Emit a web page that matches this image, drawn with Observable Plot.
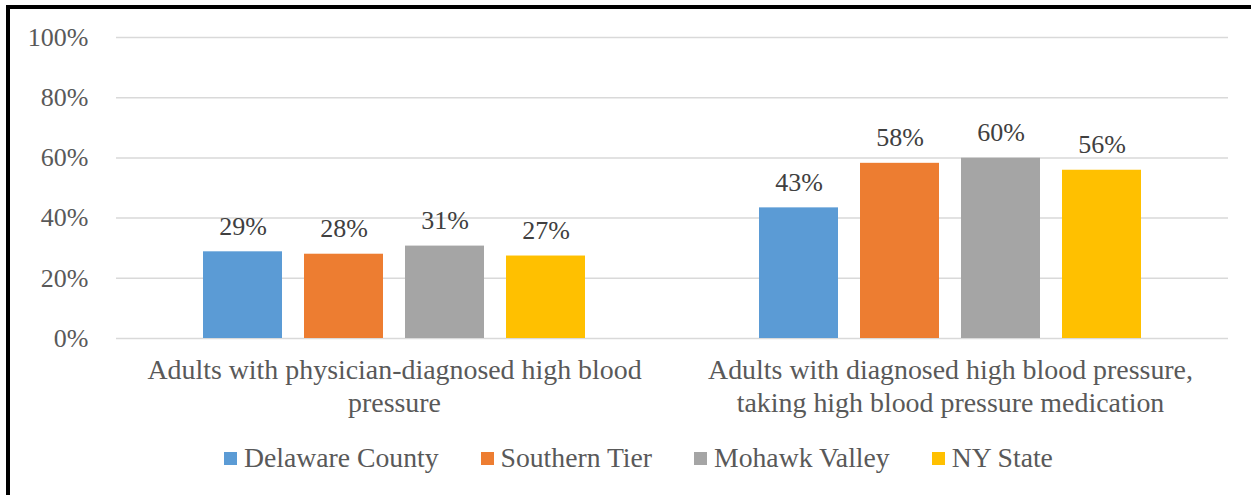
<!DOCTYPE html>
<html><head><meta charset="utf-8">
<script src="https://cdn.jsdelivr.net/npm/d3@7"></script>
<script src="https://cdn.jsdelivr.net/npm/@observablehq/plot@0.6"></script>
<style>
body{margin:0;background:#fff;font-family:"Liberation Serif","Times New Roman",serif;}
#wrap{position:relative;width:1251px;height:495px;overflow:hidden;background:#fff}
#frame{position:absolute;left:6px;top:5px;right:-10px;bottom:-10px;border-left:4px solid #000;border-top:4px solid #000;}
#chart{position:absolute;left:0;top:0}
#legend{position:absolute;top:440px;left:224px;display:flex;align-items:center;height:36px;font-size:27.7px;color:#595959;white-space:nowrap}
.item{display:flex;align-items:center;margin-right:42px}
.sw{width:13px;height:13px;margin-right:7px}
</style>
</head><body>
<div id="wrap"><div id="frame"></div><div id="chart"></div><div id="legend"></div></div>
<script>
const categories = ["Adults with physician-diagnosed high blood\npressure", "Adults with diagnosed high blood pressure,\ntaking high blood pressure medication"];
const seriesNames = ["Delaware County", "Southern Tier", "Mohawk Valley", "NY State"];
const colors = ["#5B9BD5", "#ED7D31", "#A5A5A5", "#FFC000"];
const physicianDiagnosed = [0.288, 0.280, 0.307, 0.274];
const takingMedication = [0.434, 0.582, 0.599, 0.559];
const yTicks = [0, 0.2, 0.4, 0.6, 0.8, 1];

const values = [physicianDiagnosed, takingMedication];
const data = [];
categories.forEach((c, i) => values[i].forEach((v, j) => data.push({category: c, series: seriesNames[j], value: v})));
const pct = d3.format(".0%");

const chart = Plot.plot({
  width: 1251, height: 420,
  marginLeft: 115, marginRight: 23, marginTop: 37, marginBottom: 82,
  style: {fontFamily: "Liberation Serif, Times New Roman, serif", fontSize: "26px", background: "transparent", overflow: "visible"},
  fx: {domain: categories, padding: 0, label: null},
  x: {domain: seriesNames, paddingInner: 0.218, paddingOuter: 0.85, axis: null},
  y: {domain: [0, 1], label: null},
  color: {domain: seriesNames, range: colors},
  marks: [
    Plot.gridY(yTicks, {stroke: "#d9d9d9", strokeOpacity: 1, strokeWidth: 1.5}),
    Plot.axisY(yTicks, {tickFormat: pct, tickSize: 0, tickPadding: 28, fill: "#595959", fontSize: 26, label: null}),
    Plot.axisFx({anchor: "bottom", tickSize: 0, tickPadding: 17, fill: "#595959", fontSize: 27.9, label: null, lineHeight: 1.18}),
    Plot.barY(data, {fx: "category", x: "series", y: "value", fill: "series"}),
    Plot.text(data, {fx: "category", x: "series", y: "value", text: d => pct(d.value), lineAnchor: "bottom", dy: -17, fill: "#404040", fontSize: 26})
  ]
});
document.getElementById("chart").appendChild(chart);

const legend = document.getElementById("legend");
seriesNames.forEach((s, i) => {
  const it = document.createElement("div"); it.className = "item";
  const sw = document.createElement("div"); sw.className = "sw"; sw.style.background = colors[i];
  const t = document.createElement("span"); t.textContent = s;
  it.appendChild(sw); it.appendChild(t); legend.appendChild(it);
});
</script>
</body></html>
